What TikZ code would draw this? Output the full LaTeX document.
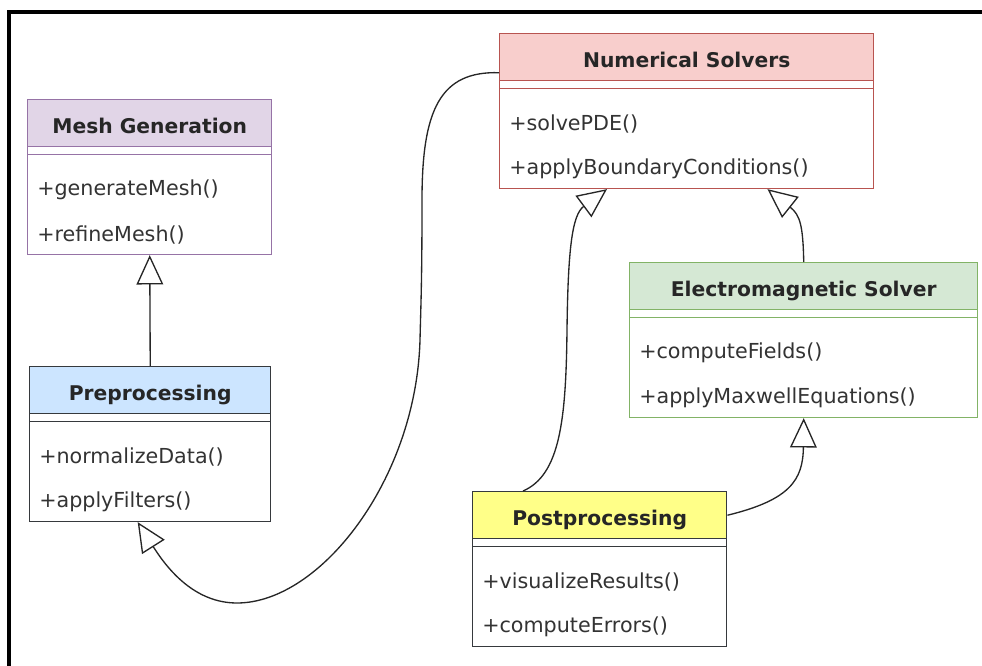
\documentclass[tikz,border=0pt]{standalone}
\usepackage{fontspec}
\setmainfont{DejaVu Sans}
\usetikzlibrary{arrows.meta}
\definecolor{meshfill}{HTML}{E1D5E7}
\definecolor{meshline}{HTML}{9673A6}
\definecolor{numfill}{HTML}{F8CECC}
\definecolor{numline}{HTML}{B85450}
\definecolor{emfill}{HTML}{D5E8D4}
\definecolor{emline}{HTML}{82B366}
\definecolor{prefill}{HTML}{CCE5FF}
\definecolor{postfill}{HTML}{FFFF88}
\definecolor{darkline}{HTML}{36393D}

\begin{document}
\begin{tikzpicture}[x=0.75pt, y=-0.75pt, font=\fontsize{15.5}{18}\selectfont]
\tikzstyle{frame}=[line width=2.5pt]
\tikzstyle{classbox}=[rectangle, draw, line width=1.1pt, fill=white, anchor=north west, minimum height=116pt, inner sep=0pt]
\tikzstyle{head}=[rectangle, draw, line width=1.1pt, anchor=north west, minimum height=35.25pt, inner sep=0pt, font=\fontsize{15.2}{18}\selectfont\bfseries, text=black!85, text height=15.4pt, text depth=0pt]
\tikzstyle{method}=[anchor=west, inner sep=0pt, text=black!80]
\tikzstyle{inherit}=[-{Triangle[open, length=22pt, width=20pt]}, line width=1pt, black!85]
\useasboundingbox (0,0) rectangle (982,666);
\draw[frame] (9,670) -- (9,12) -- (986,12);

% Mesh Generation
\node[classbox, draw=meshline, minimum width=183pt] (mesh) at (27,99) {};
\node[head, fill=meshfill, draw=meshline, minimum width=183pt] (meshhead) at (27,99) {Mesh Generation};
\draw[meshline, line width=1.1pt] ([yshift=-5.25pt]meshhead.south west) -- ([yshift=-5.25pt]meshhead.south east);
\node[method] (mesh1) at ([xshift=7.5pt, yshift=-68pt]mesh.north west) {+generateMesh()};
\node[method] (mesh2) at ([xshift=7.5pt, yshift=-101.75pt]mesh.north west) {+refineMesh()};

% Numerical Solvers
\node[classbox, draw=numline, minimum width=280.5pt] (num) at (499,33) {};
\node[head, fill=numfill, draw=numline, minimum width=280.5pt] (numhead) at (499,33) {Numerical Solvers};
\draw[numline, line width=1.1pt] ([yshift=-5.25pt]numhead.south west) -- ([yshift=-5.25pt]numhead.south east);
\node[method] (num1) at ([xshift=7.5pt, yshift=-68pt]num.north west) {+solvePDE()};
\node[method] (num2) at ([xshift=7.5pt, yshift=-101.75pt]num.north west) {+applyBoundaryConditions()};

% Electromagnetic Solver
\node[classbox, draw=emline, minimum width=261pt] (em) at (629,262) {};
\node[head, fill=emfill, draw=emline, minimum width=261pt] (emhead) at (629,262) {Electromagnetic Solver};
\draw[emline, line width=1.1pt] ([yshift=-5.25pt]emhead.south west) -- ([yshift=-5.25pt]emhead.south east);
\node[method] (em1) at ([xshift=7.5pt, yshift=-68pt]em.north west) {+computeFields()};
\node[method] (em2) at ([xshift=7.5pt, yshift=-101.75pt]em.north west) {+applyMaxwellEquations()};

% Preprocessing
\node[classbox, draw=darkline, minimum width=180.75pt] (pre) at (29,366) {};
\node[head, fill=prefill, draw=darkline, minimum width=180.75pt] (prehead) at (29,366) {Preprocessing};
\draw[darkline, line width=1.1pt] ([yshift=-5.25pt]prehead.south west) -- ([yshift=-5.25pt]prehead.south east);
\node[method] (pre1) at ([xshift=7.5pt, yshift=-68pt]pre.north west) {+normalizeData()};
\node[method] (pre2) at ([xshift=7.5pt, yshift=-101.75pt]pre.north west) {+applyFilters()};

% Postprocessing
\node[classbox, draw=darkline, minimum width=190.5pt] (post) at (472,491) {};
\node[head, fill=postfill, draw=darkline, minimum width=190.5pt] (posthead) at (472,491) {Postprocessing};
\draw[darkline, line width=1.1pt] ([yshift=-5.25pt]posthead.south west) -- ([yshift=-5.25pt]posthead.south east);
\node[method] (post1) at ([xshift=7.5pt, yshift=-68pt]post.north west) {+visualizeResults()};
\node[method] (post2) at ([xshift=7.5pt, yshift=-101.75pt]post.north west) {+computeErrors()};

% generalizations
\draw[inherit] (pre.north) -- (mesh.south);
\draw[inherit] ([yshift=-11.6pt]numhead.west) .. controls (440,71) and (422,110) .. (422,200)
  .. controls (422,280) and (421,300) .. (420,340)
  .. controls (416,480) and (320,603) .. (237,603)
  .. controls (195,603) and (168,570) .. ([xshift=-9.4pt]pre.south);
\draw[inherit] ([xshift=38.25pt]post.north west) .. controls (560,475) and (566,420) .. (567,330)
  .. controls (568,250) and (572,215) .. ([xshift=81pt]num.south west);
\draw[inherit] (em.north) .. controls (803,225) and (800,215) .. ([xshift=-80.25pt]num.south east);
\draw[inherit] (posthead.east) .. controls (790,500) and (803,480) .. (em.south);
\end{tikzpicture}
\end{document}
